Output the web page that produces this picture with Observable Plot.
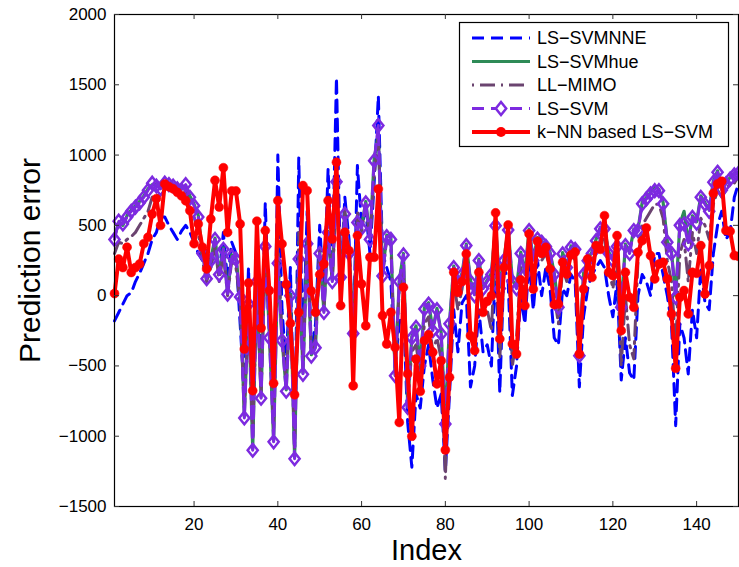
<!DOCTYPE html>
<html><head><meta charset="utf-8">
<script src="https://cdn.jsdelivr.net/npm/d3@7"></script>
<script src="https://cdn.jsdelivr.net/npm/@observablehq/plot@0.6"></script>
<style>
body{margin:0;background:#fff;}
#chart{width:739px;height:567px;}
svg{font-family:"Liberation Sans",Arial,Helvetica,sans-serif;}
</style></head><body><div id="chart"></div>
<script>
const seriesNames = ["LS\u2212SVMNNE","LS\u2212SVMhue","LL\u2212MIMO","LS\u2212SVM","k\u2212NN based LS\u2212SVM"];
const xTicks = [20,40,60,80,100,120,140];
const yTicks = [-1500,-1000,-500,0,500,1000,1500,2000];

const lsSvmNNE = [-180,-120,-60,0,20,100,160,230,300,400,
 450,560,560,500,450,400,460,500,450,380,
 300,250,320,200,380,150,450,100,380,300,
 -200,-700,200,-1000,400,-600,660,-200,-900,1000,
 -100,-500,200,-1100,980,-400,600,-400,-200,500,
 0,900,200,1550,100,700,400,-300,925,500,
 600,300,800,1420,300,200,100,-500,-200,-100,
 -900,-1220,-700,-800,-500,-350,-600,-800,-700,-1250,
 -700,-100,-400,-50,0,-650,-500,-100,-400,-350,
 -500,250,-690,200,100,-710,-500,0,-200,250,
 -100,250,0,200,50,-300,-350,50,0,150,
 100,-650,-150,50,150,200,250,200,0,-150,
 100,-600,-300,-550,-600,0,150,100,0,300,
 300,150,0,-200,-925,-200,-300,-557,-100,-300,
 200,-50,-100,300,500,600,400,450,700,800];

const lsSvmHue = [420,520,500,570,610,640,670,710,760,790,
 790,770,810,800,790,770,760,780,710,650,
 570,310,130,260,410,160,340,20,290,270,
 0,-860,-50,-1090,110,-720,360,-290,-1030,240,
 -310,-670,10,-1150,270,-550,380,-420,-360,310,
 -110,460,110,820,140,590,310,-260,530,490,
 670,410,970,1150,150,430,410,-560,110,300,
 -780,-290,-215,-490,-85,-50,-240,-90,-263,-900,
 -190,210,90,160,366,110,10,260,60,110,
 160,508,60,260,477,110,60,310,160,473,
 260,413,390,360,310,160,-73,307,210,354,
 340,-417,160,259,310,401,485,485,310,260,
 360,-73,366,310,473,473,663,698,734,780,
 757,663,390,310,-2,510,600,378,567,526,
 710,660,610,817,888,760,805,840,870,880];

const llMimo = [300,380,370,400,420,450,500,550,600,700,
 720,700,760,770,760,730,720,750,650,560,
 450,250,100,200,350,100,300,0,250,200,
 -50,-800,-100,-1000,50,-700,300,-250,-950,400,
 -300,-600,0,-1100,450,-500,400,-400,-300,350,
 -100,500,100,750,100,600,300,-250,600,450,
 650,400,850,1150,150,400,350,-550,50,200,
 -750,-400,-350,-550,-200,-150,-400,-300,-450,-1300,
 -350,100,-100,50,250,-300,-350,100,-150,-100,
 -250,400,-450,150,350,-500,-300,200,0,350,
 100,350,250,300,200,0,-200,200,100,300,
 250,-450,50,200,250,300,400,400,200,50,
 250,-500,0,-350,-450,250,500,550,600,650,
 650,550,250,100,-350,300,400,100,450,300,
 550,500,400,650,750,700,750,800,800,850];

const lsSvm = [400,530,510,560,600,630,660,700,750,800,
 780,760,800,790,780,760,750,790,700,640,
 560,300,120,250,400,150,330,10,280,260,
 -10,-870,-60,-1100,100,-730,350,-300,-1040,230,
 -320,-680,0,-1160,260,-560,370,-430,-370,300,
 -120,450,100,810,130,580,300,-270,520,480,
 660,400,960,1210,140,420,400,-570,100,290,
 -795,-300,-225,-500,-95,-60,-250,-100,-273,-913,
 -200,200,80,150,356,100,0,250,50,100,
 150,498,50,250,467,100,50,300,150,463,
 250,403,380,350,300,150,-83,297,200,344,
 330,-427,150,249,300,391,475,475,300,250,
 350,-83,356,300,463,463,653,688,724,747,
 747,653,380,300,-12,500,510,368,557,516,
 700,650,600,807,878,750,795,830,860,870];

const knnLsSvm = [15,260,200,345,165,200,225,370,415,580,
 690,500,795,775,760,735,710,675,605,370,
 510,345,190,545,820,630,910,450,745,745,
 510,-380,90,-676,530,-230,463,36,-624,676,
 368,80,-197,-705,-119,783,747,33,-119,150,
 225,676,403,949,-71,451,320,-641,427,83,
 -214,273,273,759,-142,-344,-119,-368,-902,59,
 -557,-1000,-451,-681,-320,-278,-403,-628,-463,-1098,
 -581,166,23,100,297,-285,-391,166,-119,-40,
 0,589,-308,200,503,-344,-415,112,-71,439,
 47,387,300,344,190,-64,-60,237,154,290,
 310,-415,47,261,130,356,330,569,166,142,
 427,-249,166,-12,-83,308,391,482,285,119,
 225,237,119,-130,-517,-12,36,-130,166,159,
 356,12,214,728,795,814,463,458,285,280];

const toRows = arr => arr.map((v,k)=>({x:k+1, y:v}));
const rBlue = toRows(lsSvmNNE), rGreen = toRows(lsSvmHue), rMimo = toRows(llMimo), rPurple = toRows(lsSvm), rRed = toRows(knnLsSvm);

const C = {blue:"#0000ff", green:"#2e8b57", mimo:"#6b4470", purple:"#7d2ae0", red:"#ff0000"};
const diamond = {draw(ctx, size){ const r = Math.sqrt(size/Math.PI); const h=r*1.15, w=r*0.92;
  ctx.moveTo(0,-h); ctx.lineTo(w,0); ctx.lineTo(0,h); ctx.lineTo(-w,0); ctx.closePath(); }};

const W=739,H=567,mL=114,mR=1,mT=14,mB=61;
const pw=W-mL-mR, ph=H-mT-mB;
const fmt = d3.format("d");

const chart = Plot.plot({
  width:W, height:H, marginLeft:mL, marginRight:mR, marginTop:mT, marginBottom:mB,
  style:{fontFamily:'"Liberation Sans",Arial,Helvetica,sans-serif', fontSize:"17px", color:"black", background:"white"},
  x:{domain:[1,150]}, y:{domain:[-1500,2000]},
  marks:[
    Plot.line(rBlue,{x:"x",y:"y",stroke:C.blue,strokeWidth:3,strokeDasharray:"12,7"}),
    Plot.line(rGreen,{x:"x",y:"y",stroke:C.green,strokeWidth:3.2}),
    Plot.line(rMimo,{x:"x",y:"y",stroke:C.mimo,strokeWidth:3,strokeDasharray:"15,6,2,6"}),
    Plot.line(rPurple,{x:"x",y:"y",stroke:C.purple,strokeWidth:3,strokeDasharray:"12,7"}),
    Plot.dot(rPurple,{x:"x",y:"y",symbol:diamond,r:5.5,stroke:C.purple,strokeWidth:2.5,fill:"none"}),
    Plot.line(rRed,{x:"x",y:"y",stroke:C.red,strokeWidth:4}),
    Plot.dot(rRed,{x:"x",y:"y",r:4.5,fill:C.red,stroke:C.red,strokeWidth:0.5}),
    Plot.frame({stroke:"black",strokeWidth:1.2}),
    Plot.tickY(yTicks,{y:d=>d,insetRight:pw-5,stroke:"#333",strokeWidth:1}),
    Plot.tickY(yTicks,{y:d=>d,insetLeft:pw-5,stroke:"#333",strokeWidth:1}),
    Plot.tickX(xTicks,{x:d=>d,insetTop:ph-5,stroke:"#333",strokeWidth:1}),
    Plot.tickX(xTicks,{x:d=>d,insetBottom:ph-5,stroke:"#333",strokeWidth:1}),
    Plot.axisY({ticks:yTicks,tickSize:0,tickPadding:8,fontSize:17,label:null,tickFormat:fmt}),
    Plot.axisX({ticks:xTicks,tickSize:0,tickPadding:11,fontSize:17,label:null,tickFormat:fmt}),
    Plot.text(["Prediction error"],{frameAnchor:"left",rotate:-90,dx:-84,fontSize:30,lineAnchor:"middle",textAnchor:"middle"}),
    Plot.text(["Index"],{frameAnchor:"bottom",dy:44,fontSize:29,lineAnchor:"middle"})
  ]
});
document.getElementById("chart").appendChild(chart);

// legend
const svg = d3.select(chart);
const lg = svg.append("g").attr("font-family",'"Liberation Sans",Arial,Helvetica,sans-serif').attr("font-size",18).attr("text-anchor","start");
lg.append("rect").attr("x",459.5).attr("y",22.5).attr("width",269).attr("height",124).attr("fill","white").attr("stroke","black").attr("stroke-width",1.2);
const styles = [
  {c:C.blue,w:3,d:"12,7"},{c:C.green,w:3.2,d:null},{c:C.mimo,w:3,d:"2,6,15,6"},{c:C.purple,w:3,d:"12,7",m:"diamond"},{c:C.red,w:4,d:null,m:"circle"}
];
styles.forEach((s,k)=>{
  const y = 38 + k*23.5;
  const l = lg.append("line").attr("x1",472).attr("x2",530).attr("y1",y).attr("y2",y).attr("stroke",s.c).attr("stroke-width",s.w);
  if(s.d) l.attr("stroke-dasharray",s.d);
  if(s.m==="diamond") lg.append("path").attr("d",`M501,${y-6.5}L506.2,${y}L501,${y+6.5}L495.8,${y}Z`).attr("fill","white").attr("stroke",s.c).attr("stroke-width",2.5);
  if(s.m==="circle") lg.append("circle").attr("cx",501).attr("cy",y).attr("r",5).attr("fill",s.c);
  lg.append("text").attr("x",537).attr("y",y).attr("dy","0.36em").attr("text-anchor","start").attr("fill","black").text(seriesNames[k]);
});
</script></body></html>
